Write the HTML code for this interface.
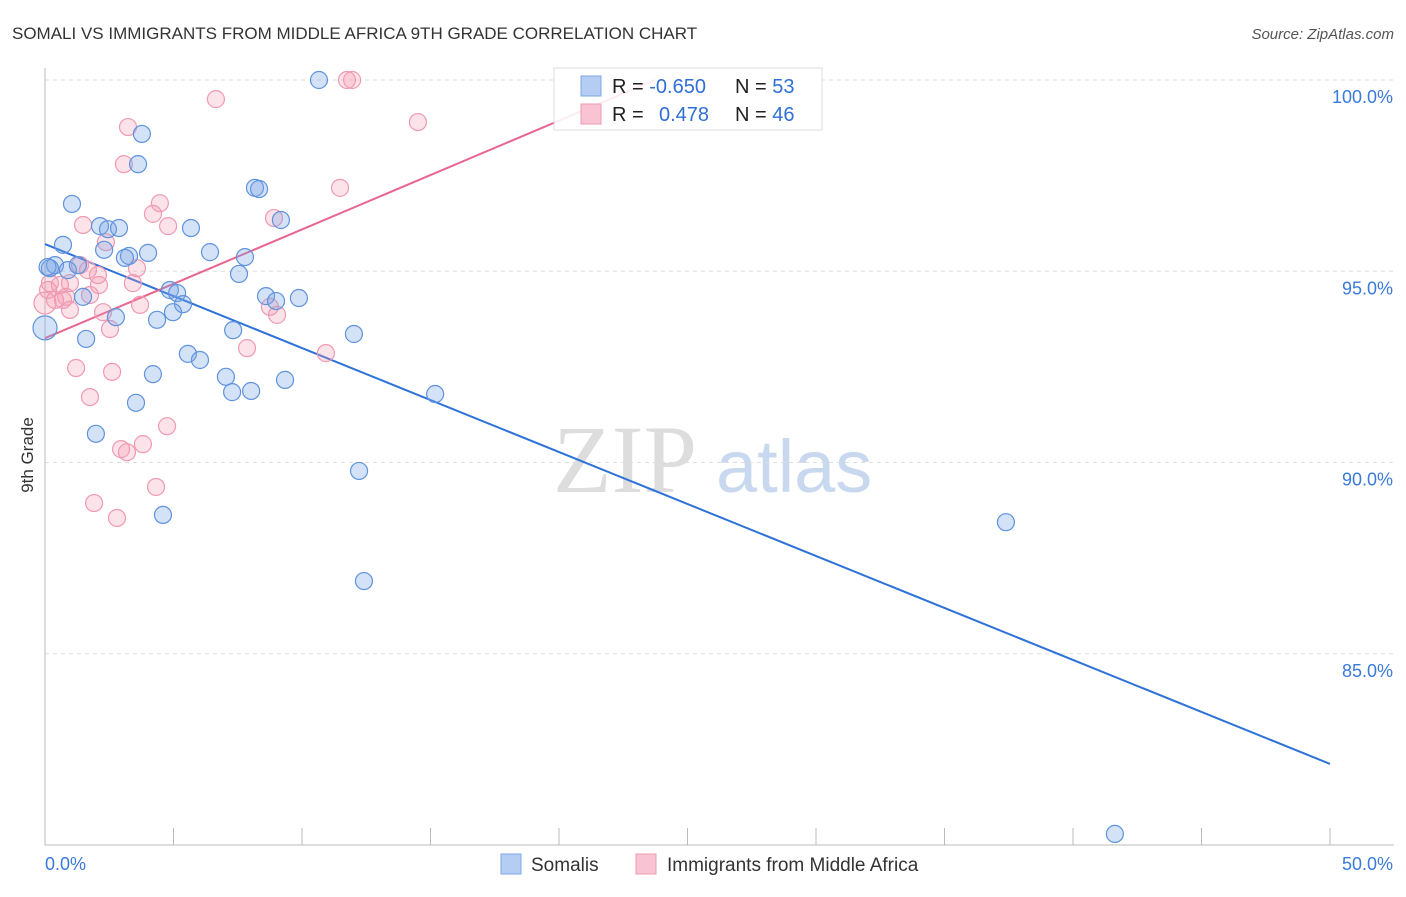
<!DOCTYPE html>
<html><head><meta charset="utf-8"><style>
body{margin:0;background:#fff;font-family:"Liberation Sans",sans-serif}
svg text{font-family:"Liberation Sans",sans-serif}
</style></head><body>
<svg id="c" width="1406" height="892" xmlns="http://www.w3.org/2000/svg">
<text x="12" y="39" font-size="17" fill="#333">SOMALI VS IMMIGRANTS FROM MIDDLE AFRICA 9TH GRADE CORRELATION CHART</text>
<text x="1394" y="39" font-size="15" fill="#555" font-style="italic" text-anchor="end">Source: ZipAtlas.com</text>
<text x="33" y="455" font-size="17" fill="#333" text-anchor="middle" transform="rotate(-90 33 455)">9th Grade</text>
<g>
<text x="553" y="492" font-size="96" fill="#ddd" font-family="Liberation Serif" style="font-family:'Liberation Serif',serif">ZIP</text>
<text x="716" y="492" font-size="74" fill="#c8d8ef">atlas</text>
</g>
<g id="grid"></g><g id="axes"></g><g id="lines"></g><g id="pts"></g>
<g>
<rect x="554" y="68" width="268" height="62" fill="rgba(255,255,255,0.88)" stroke="#ddd"/>
<rect x="581" y="76" width="20" height="20" fill="#b5cdf2" stroke="#7ea6e6"/>
<rect x="581" y="104" width="20" height="20" fill="#f8c4d3" stroke="#ef9ab3"/>
<text x="612" y="93" font-size="20" fill="#222">R = <tspan fill="#2f6fd6">-0.650</tspan></text>
<text x="735" y="93" font-size="20" fill="#222">N = <tspan fill="#2f6fd6">53</tspan></text>
<text x="612" y="121" font-size="20" fill="#222">R = <tspan fill="#2f6fd6" x="659">0.478</tspan></text>
<text x="735" y="121" font-size="20" fill="#222">N = <tspan fill="#2f6fd6">46</tspan></text>
</g>
<g>
<rect x="501" y="854" width="20" height="20" fill="#b5cdf2" stroke="#7ea6e6"/>
<text x="531" y="871" font-size="19" fill="#333">Somalis</text>
<rect x="636" y="854" width="20" height="20" fill="#f8c4d3" stroke="#ef9ab3"/>
<text x="667" y="871" font-size="19" fill="#333">Immigrants from Middle Africa</text>
</g>
</svg>
<script>
const blueX=[10.66,3.77,3.62,1.05,8.17,8.33,9.18,2.14,2.45,2.88,5.68,0.70,2.30,3.27,4.01,3.11,6.42,7.78,0.39,0.89,1.28,0.19,7.55,4.86,5.14,8.60,8.99,9.88,1.48,5.37,4.98,2.76,4.36,7.32,12.02,1.60,0,5.56,6.03,4.20,7.04,9.34,7.28,8.02,15.18,3.54,1.98,12.22,4.59,37.39,12.41,41.63,0.1];
const blueY=[100,98.59,97.80,96.76,97.18,97.15,96.34,96.18,96.10,96.13,96.13,95.69,95.56,95.40,95.48,95.35,95.50,95.37,95.16,95.03,95.16,95.08,94.93,94.51,94.43,94.35,94.22,94.30,94.33,94.14,93.93,93.80,93.73,93.46,93.36,93.23,93.52,92.84,92.68,92.31,92.24,92.16,91.84,91.87,91.79,91.56,90.75,89.78,88.63,88.44,86.90,80.29,95.11];
const pinkX=[11.75,11.95,6.65,14.51,3.23,3.07,11.48,4.47,4.20,4.79,8.91,1.48,2.37,3.58,1.36,2.06,1.67,0.19,0.58,0.97,0.39,0,0.82,2.10,3.42,3.70,8.75,9.03,2.26,2.53,7.86,10.93,1.21,2.61,1.75,4.75,2.96,3.19,3.81,4.32,1.91,2.80,0.70,0.97,1.75,0.12];
const pinkY=[100,100,99.50,98.90,98.77,97.80,97.18,96.78,96.50,96.18,96.39,96.21,95.76,95.08,95.16,94.90,95.03,94.69,94.64,94.69,94.25,94.17,94.33,94.64,94.69,94.12,94.07,93.86,93.93,93.49,92.99,92.86,92.47,92.37,91.71,90.95,90.35,90.27,90.48,89.36,88.94,88.55,94.25,93.99,94.38,94.51];
const yTicks=[100,95,90,85];
const yTickLabels=["100.0%","95.0%","90.0%","85.0%"];
const blueLine=[[0,95.71],[50,82.12]];
const pinkLine=[[0,93.25],[23.74,100]];
const NS="http://www.w3.org/2000/svg";
const sx=v=>45+v/50*1285;
const sy=v=>80+(100-v)*38.25;
function mk(tag,attrs,parent){const e=document.createElementNS(NS,tag);for(const k in attrs)e.setAttribute(k,attrs[k]);parent.appendChild(e);return e;}
const grid=document.getElementById('grid'),axes=document.getElementById('axes'),lines=document.getElementById('lines'),pts=document.getElementById('pts');
yTicks.forEach((t,i)=>{
 const l=mk('line',{x1:45,x2:1394,y1:sy(t),y2:sy(t),stroke:'#ddd','stroke-dasharray':'4,4'},grid);
 
 
 const tx=mk('text',{x:1393,y:sy(t)+23,'font-size':18,fill:'#3a7ad9','text-anchor':'end'},grid);
 tx.textContent=yTickLabels[i];
 
 
});
const ax=mk('line',{x1:45,x2:45,y1:68,y2:845,stroke:'#bbb'},axes);


const bx=mk('line',{x1:45,x2:1394,y1:845,y2:845,stroke:'#bbb'},axes);


for(let i=0;i<=10;i++){const t=mk('line',{x1:sx(i*5),x2:sx(i*5),y1:828,y2:845,stroke:'#bbb'},axes);
 
 }
const xl0=mk('text',{x:45,y:870,'font-size':18,fill:'#3a7ad9'},axes);xl0.textContent='0.0%';


const xl1=mk('text',{x:1393,y:870,'font-size':18,fill:'#3a7ad9','text-anchor':'end'},axes);xl1.textContent='50.0%';


function pt(x,y,fill,stroke,r,name){const c=mk('circle',{cx:sx(x),cy:sy(y),r:r,fill:fill,stroke:stroke,'stroke-width':1.2},pts);
 
 }
pinkX.forEach((x,i)=>pt(x,pinkY[i],'rgba(244,150,176,0.28)','#ef9ab3',x===0?11:8.5,'point-middle-africa'));
blueX.forEach((x,i)=>pt(x,blueY[i],'rgba(120,165,230,0.32)','#5f93dc',x===0?12:8.5,'point-somalis'));
const bl=mk('line',{x1:sx(blueLine[0][0]),y1:sy(blueLine[0][1]),x2:sx(blueLine[1][0]),y2:sy(blueLine[1][1]),stroke:'#2f72d8','stroke-width':2},lines);


const pl=mk('line',{x1:sx(pinkLine[0][0]),y1:sy(pinkLine[0][1]),x2:sx(pinkLine[1][0]),y2:sy(pinkLine[1][1]),stroke:'#e8668f','stroke-width':2},lines);


</script>
</body></html>
